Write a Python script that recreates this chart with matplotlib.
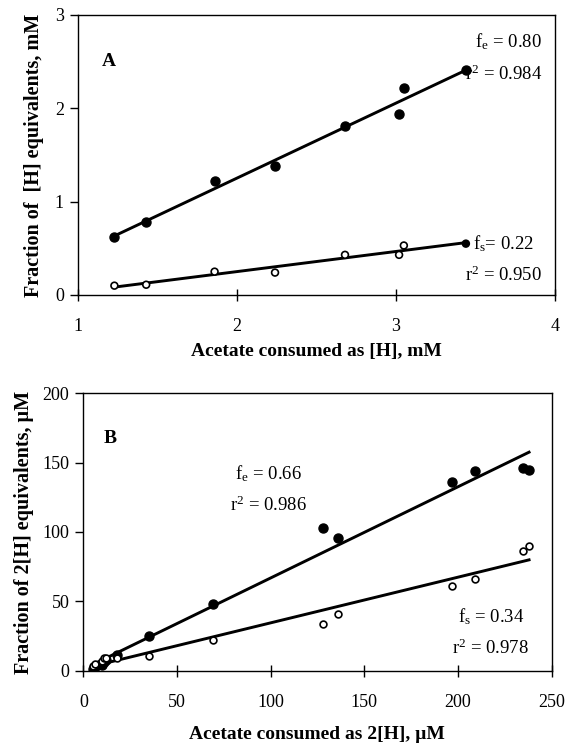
import numpy as np
import matplotlib
matplotlib.use("Agg")
import matplotlib.pyplot as plt

plt.rcParams["font.family"] = "Liberation Serif"
plt.rcParams["mathtext.fontset"] = "custom"
plt.rcParams["mathtext.rm"] = "Liberation Serif"
plt.rcParams["mathtext.it"] = "Liberation Serif:italic"
plt.rcParams["font.size"] = 13

# panel A data (mM)
xa = [1.23, 1.43, 1.86, 2.24, 2.68, 3.02, 3.05, 3.44]
fe_a = [0.62, 0.78, 1.22, 1.38, 1.81, 1.94, 2.22, 2.41]
fs_a = [0.10, 0.11, 0.25, 0.24, 0.43, 0.43, 0.53, 0.55]

# panel B data (uM)
xb = [5, 6, 10, 11, 12, 18, 35, 69, 128, 136, 197, 209, 235, 238]
fe_b = [1.5, 2.5, 4, 6, 8, 11, 25, 48, 103, 96, 136, 144, 146, 145]
fs_b = [3.5, 5, 7, 9, 9, 9, 10.5, 22, 34, 41, 61, 66, 86, 90]

fig = plt.figure(figsize=(5.68, 7.44), dpi=100)

def style(ax):
    for s in ax.spines.values():
        s.set_linewidth(1.0)
    ax.tick_params(axis="x", direction="inout", length=9, width=1, pad=12)
    ax.tick_params(axis="y", direction="out", length=6, width=1, pad=4)

def fitline(ax, x, y):
    p = np.polyfit(x, y, 1)
    xx = np.array([min(x), max(x)])
    ax.plot(xx, np.polyval(p, xx), color="black", lw=2.1, zorder=2)

lab = dict(fontweight="bold", fontsize=14)

# ---- A
ax1 = fig.add_axes([0.137, 0.6035, 0.840, 0.3765])
fitline(ax1, xa, fe_a)
fitline(ax1, xa, fs_a)
ax1.plot(xa, fe_a, "o", color="black", ms=6.5, zorder=3)
face = ["white"] * (len(xa) - 1) + ["black"]
ax1.scatter(xa, fs_a, s=24, facecolors=face, edgecolors="black", linewidths=1.2, zorder=3)
ax1.set_xlim(1, 4)
ax1.set_ylim(0, 3)
ax1.set_xticks([1, 2, 3, 4])
ax1.set_yticks([0, 1, 2, 3])
style(ax1)
ax1.set_xlabel("Acetate consumed as [H], mM", labelpad=6, **lab)
ax1.set_ylabel("Fraction of  [H] equivalents, mM", labelpad=8, fontweight="bold", fontsize=14.5)
ax1.text(1.15, 2.5, "A", fontweight="bold", fontsize=14, va="center")
ax1.text(3.915, 2.71, r"f$_\mathrm{e}$ = 0.80", ha="right", va="center", fontsize=13.5)
ax1.text(3.92, 2.36, r"r$^2$ = 0.984", ha="right", va="center", fontsize=13.5)
ax1.text(3.87, 0.55, r"f$_\mathrm{s}$= 0.22", ha="right", va="center", fontsize=13.5)
ax1.text(3.92, 0.21, r"r$^2$ = 0.950", ha="right", va="center", fontsize=13.5)

# ---- B
ax2 = fig.add_axes([0.1467, 0.0985, 0.8243, 0.3729])
fitline(ax2, xb, fe_b)
fitline(ax2, xb, fs_b)
ax2.plot(xb, fe_b, "o", color="black", ms=6.5, zorder=3)
ax2.scatter(xb, fs_b, s=24, facecolors="white", edgecolors="black", linewidths=1.2, zorder=3)
ax2.set_xlim(0, 250)
ax2.set_ylim(0, 200)
ax2.set_xticks([0, 50, 100, 150, 200, 250])
ax2.set_yticks([0, 50, 100, 150, 200])
style(ax2)
ax2.set_xlabel("Acetate consumed as 2[H], \u00b5M", labelpad=11, **lab)
ax2.set_ylabel("Fraction of 2[H] equivalents, \u00b5M", labelpad=6, fontweight="bold", fontsize=14.5)
ax2.text(11, 167.5, "B", fontweight="bold", fontsize=14, va="center")
ax2.text(99, 142, r"f$_\mathrm{e}$ = 0.66", ha="center", va="center", fontsize=13.5)
ax2.text(99, 119.5, r"r$^2$ = 0.986", ha="center", va="center", fontsize=13.5)
ax2.text(218, 39, r"f$_\mathrm{s}$ = 0.34", ha="center", va="center", fontsize=13.5)
ax2.text(217.5, 16, r"r$^2$ = 0.978", ha="center", va="center", fontsize=13.5)

fig.savefig("out.png", dpi=100)
